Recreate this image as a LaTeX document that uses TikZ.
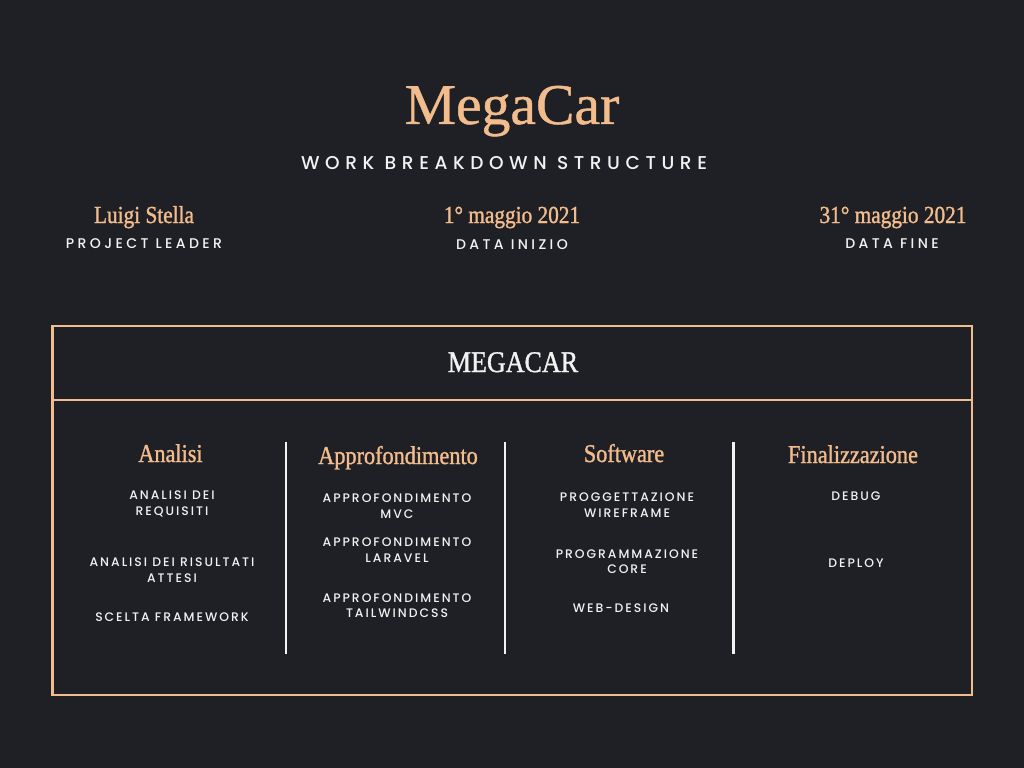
\documentclass[tikz,border=0pt]{standalone}
\usepackage{fontspec}
\usepackage{xcolor}
\usetikzlibrary{positioning}

\newfontfamily\titlefont[FakeBold=0.8]{Liberation Serif}
\newfontfamily\headfont[FakeStretch=0.87,FakeBold=1.2]{Liberation Serif}
\newfontfamily\widecaps[LetterSpace=30]{Poppins Medium}
\newfontfamily\rolecaps[LetterSpace=24]{Poppins Medium}
\newfontfamily\itemcaps[LetterSpace=16]{Poppins Medium}

\definecolor{bgdark}{HTML}{1F2026}
\definecolor{peach}{HTML}{F2BC8C}
\definecolor{offwhite}{HTML}{F2F2F2}

\begin{document}
\begin{tikzpicture}[x=0.025cm,y=-0.025cm,
    title node/.style={text=peach,inner sep=0,anchor=base,font=\titlefont\fontsize{41}{41}\selectfont},
    sub node/.style={text=offwhite,inner sep=0,anchor=base,font=\widecaps\fontsize{13.2}{14}\selectfont},
    name node/.style={text=peach,inner sep=0,anchor=base,font=\headfont\fontsize{17.4}{17.4}\selectfont},
    role node/.style={text=offwhite,inner sep=0,anchor=base,font=\rolecaps\fontsize{10}{11}\selectfont},
    head node/.style={text=peach,inner sep=0,anchor=base,font=\headfont\fontsize{18.2}{18.2}\selectfont},
    task node/.style={text=offwhite,inner sep=0,anchor=north,align=center,font=\itemcaps\fontsize{8.8}{10.7}\selectfont},
    frame line/.style={draw=peach,line width=1.8pt},
    column line/.style={draw=offwhite,line width=1.9pt}]

    % background
    \fill[bgdark] (0,0) rectangle (1024,768);

    % header
    \node[title node] (title) at (512,124) {MegaCar};
    \node[sub node] (subtitle) at (504,170) {WORK BREAKDOWN STRUCTURE};

    \node[name node] (leader) at (144,223) {Luigi Stella};
    \node[role node] (leaderrole) at (144,248) {PROJECT LEADER};
    \node[name node] (start) at (512,223) {1° maggio 2021};
    \node[role node] (startrole) at (512,249) {DATA INIZIO};
    \node[name node] (end) at (893,223) {31° maggio 2021};
    \node[role node] (endrole) at (892,248) {DATA FINE};

    % frame
    \draw[frame line] (52.5,326) rectangle (972,695);
    \draw[frame line] (52.5,400) -- (972,400);
    \node[text=offwhite,inner sep=0,anchor=base,font=\headfont\fontsize{21.3}{21.3}\selectfont] (root) at (513,372) {MEGACAR};

    % columns
    \coordinate (sepatop) at (286,442);
    \coordinate (sepabot) at (286,654);
    \coordinate (sepbtop) at (505,442);
    \coordinate (sepbbot) at (505,654);
    \coordinate (sepctop) at (733.5,442);
    \coordinate (sepcbot) at (733.5,654);
    \draw[column line] (sepatop) -- (sepabot);
    \draw[column line] (sepbtop) -- (sepbbot);
    \draw[column line] (sepctop) -- (sepcbot);

    \node[head node] (analisi) at (170.5,462) {Analisi};
    \node[head node] (approf) at (398,464) {Approfondimento};
    \node[head node] (software) at (624,462) {Software};
    \node[head node] (final) at (853,463) {Finalizzazione};

    \node[task node] (a1) at (172,491) {ANALISI DEI\\REQUISITI};
    \node[task node] (a2) at (172,558) {ANALISI DEI RISULTATI\\ATTESI};
    \node[task node] (a3) at (172,612) {SCELTA FRAMEWORK};

    \node[task node] (b1) at (397,494) {APPROFONDIMENTO\\MVC};
    \node[task node] (b2) at (397,538) {APPROFONDIMENTO\\LARAVEL};
    \node[task node] (b3) at (397,593) {APPROFONDIMENTO\\TAILWINDCSS};

    \node[task node] (c1) at (627,493) {PROGGETTAZIONE\\WIREFRAME};
    \node[task node] (c2) at (627,549) {PROGRAMMAZIONE\\CORE};
    \node[task node] (c3) at (621,604) {WEB-DESIGN};

    \node[task node] (d1) at (856,492) {DEBUG};
    \node[task node] (d2) at (856,559) {DEPLOY};
\end{tikzpicture}
\end{document}
